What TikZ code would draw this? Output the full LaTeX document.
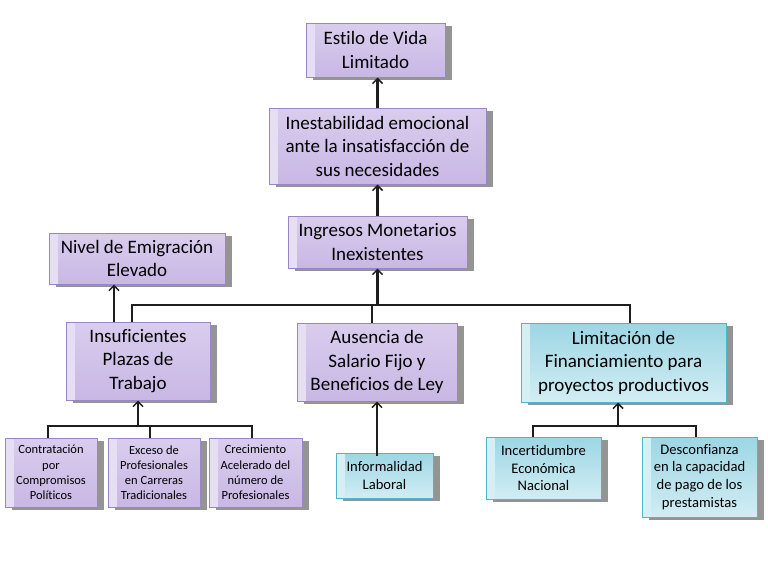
\documentclass[tikz,border=0pt]{standalone}
\usepackage{fontspec}
\setmainfont{Carlito}[Ligatures=NoCommon]
\usetikzlibrary{shadows,arrows.meta}
\definecolor{pBorder}{HTML}{9A86C6}
\definecolor{pStrip}{HTML}{E6DEF3}
\definecolor{pTop}{HTML}{D9CDEE}
\definecolor{pBot}{HTML}{C8B7E4}
\definecolor{cBorder}{HTML}{4DB6CA}
\definecolor{cStrip}{HTML}{D6EFF5}
\definecolor{cTop}{HTML}{9CD6E5}
\definecolor{cBot}{HTML}{D2EDF3}
\definecolor{lineC}{HTML}{1E1E1E}
\tikzset{
  box/.style={rectangle, inner sep=0pt, align=center, line width=1pt,
    drop shadow={shadow xshift=7pt, shadow yshift=-3pt, fill=black!42, opacity=1}},
  pbox/.style={box, draw=pBorder, fill=pStrip,
    path picture={\fill[top color=pTop, bottom color=pBot]
      ([xshift=9pt]path picture bounding box.south west) rectangle (path picture bounding box.north east);}},
  cbox/.style={box, draw=cBorder, fill=cStrip,
    path picture={\fill[top color=cTop, bottom color=cBot]
      ([xshift=9pt]path picture bounding box.south west) rectangle (path picture bounding box.north east);}},
  big/.style={font=\fontsize{19}{23.5}\selectfont},
  small/.style={font=\fontsize{12.5}{15.2}\selectfont},
  mid/.style={font=\fontsize{14.6}{17.8}\selectfont},
  conn/.style={draw=lineC, line width=2.3pt},
  arr/.style={conn, -{Straight Barb[length=5pt,width=10pt,line width=1.5pt]}},
}
\begin{document}
\begin{tikzpicture}[x=1pt,y=-1pt]
\useasboundingbox (0,0) rectangle (768,576);
% nodes
\node[pbox,big,minimum width=139pt,minimum height=54pt] (estilo) at (375.5,50) {Estilo de Vida\\Limitado};
\node[pbox,big,minimum width=217pt,minimum height=76pt] (inest) at (377.5,146) {Inestabilidad emocional\\ante la insatisfacción de\\sus necesidades};
\node[pbox,big,minimum width=179pt,minimum height=52pt] (ingresos) at (377.5,242) {Ingresos Monetarios\\Inexistentes};
\node[pbox,big,minimum width=176pt,minimum height=51pt] (nivel) at (137,258.5) {Nivel de Emigración\\Elevado};
\node[pbox,big,minimum width=144pt,minimum height=78pt] (insuf) at (138,361) {Insuficientes\\Plazas de\\Trabajo};
\node[pbox,big,minimum width=160pt,minimum height=78pt] (aus) at (377,362) {Ausencia de\\Salario Fijo y\\Beneficios de Ley};
\node[cbox,big,minimum width=205pt,minimum height=79pt] (limit) at (623.5,362.5) {Limitación de\\Financiamiento para\\proyectos productivos};
\node[pbox,small,minimum width=92pt,minimum height=69pt] (contrat) at (51,472.5) {Contratación\\por\\Compromisos\\Políticos};
\node[pbox,small,minimum width=92pt,minimum height=69pt] (exceso) at (154,472.5) {Exceso de\\Profesionales\\en Carreras\\Tradicionales};
\node[pbox,small,minimum width=93pt,minimum height=69pt] (crecim) at (255.5,472.5) {Crecimiento\\Acelerado del\\número de\\Profesionales};
\node[cbox,mid,minimum width=97pt,minimum height=45pt] (informal) at (384.5,475.5) {Informalidad\\Laboral};
\node[cbox,mid,minimum width=115pt,minimum height=62pt] (incert) at (543.5,468) {Incertidumbre\\Económica\\Nacional};
\node[cbox,mid,minimum width=115pt,minimum height=80pt] (desconf) at (699.5,477) {Desconfianza\\en la capacidad\\de pago de los\\prestamistas};
% helper coordinates
\coordinate (busy) at (0,305);
\coordinate (busb) at (0,426);
\coordinate (insufT) at ([xshift=-6pt]insuf.north);
\coordinate (insufN) at ([xshift=-24pt]insuf.north);
\coordinate (ausT) at ([xshift=-5pt]aus.north);
\coordinate (limitT) at ([xshift=6.5pt]limit.north);
\coordinate (limitB) at ([xshift=-5.5pt]limit.south);
\coordinate (contratT) at ([xshift=-3pt]contrat.north);
\coordinate (excesoT) at ([xshift=-4pt]exceso.north);
\coordinate (crecimT) at ([xshift=-3.5pt]crecim.north);
\coordinate (incertT) at ([xshift=-10.5pt]incert.north);
\coordinate (desconfT) at ([xshift=-3.5pt]desconf.north);
% connectors
\draw[arr] (inest.north) -- (inest.north |- estilo.south);
\draw[arr] (ingresos.north) -- (ingresos.north |- inest.south);
\draw[conn] (insufT) |- (limitT |- busy) -- (limitT);
\draw[conn] (ausT) -- (ausT |- busy);
\draw[arr] (ingresos.south |- busy) -- (ingresos.south);
\draw[arr] (insufN) -- (insufN |- nivel.south);
\draw[conn] (contratT) |- (crecimT |- busb) -- (crecimT);
\draw[conn] (excesoT) -- (excesoT |- busb);
\draw[arr] (insuf.south |- busb) -- (insuf.south);
\draw[arr] ([yshift=-3pt]aus.south |- informal.north) -- (aus.south);
\draw[conn] (incertT) |- (desconfT |- busb) -- (desconfT);
\draw[arr] (limitB |- busb) -- (limitB);
\end{tikzpicture}
\end{document}
